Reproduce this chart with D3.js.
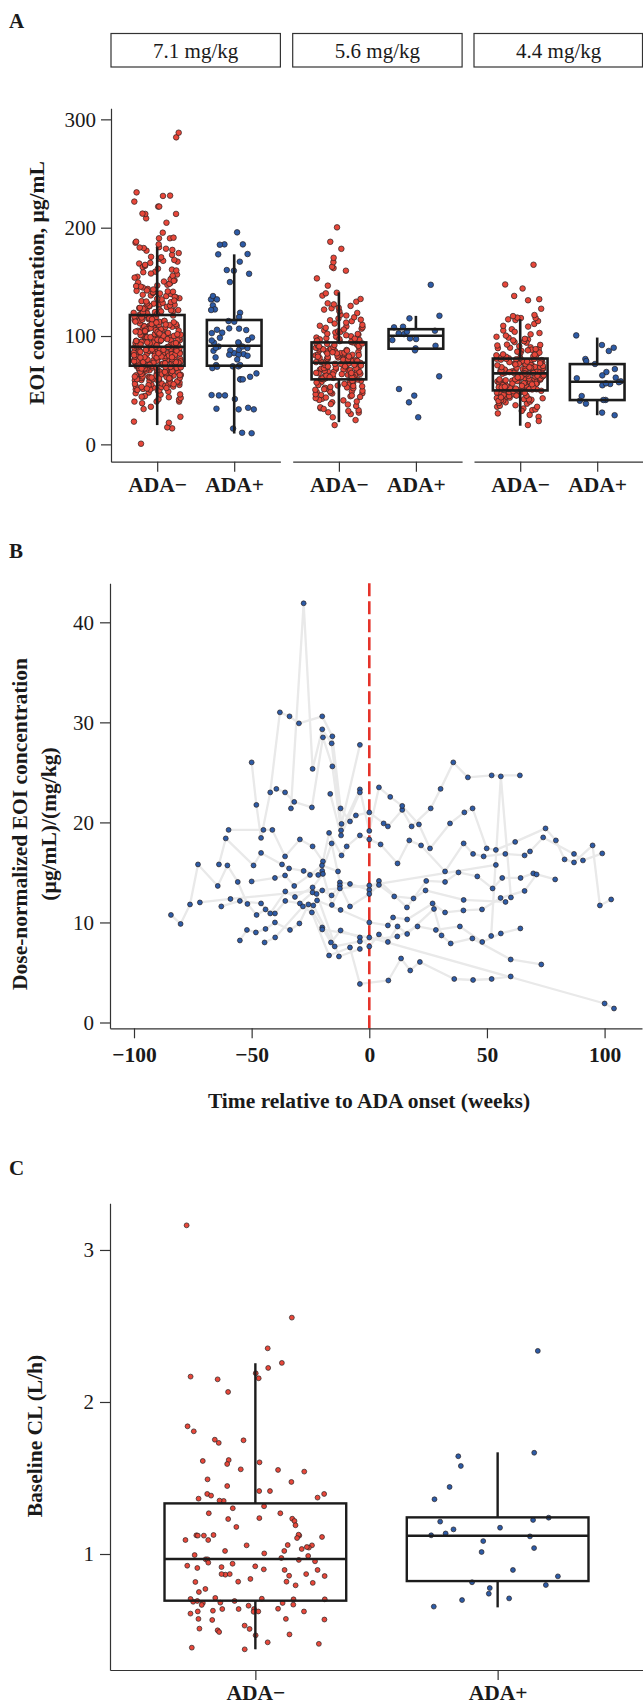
<!DOCTYPE html>
<html>
<head>
<meta charset="utf-8">
<script src="https://cdn.jsdelivr.net/npm/d3@7"></script>
<style>body{margin:0;background:#fff}</style>
</head>
<body>
<svg id="fig" width="643" height="1706"></svg>
<script>
// ---- data ----
const doseLabels = ["7.1 mg/kg", "5.6 mg/kg", "4.4 mg/kg"];
const adaGroups = ["ADA\u2212", "ADA+"];

// panel A: EOI concentration (ug/mL), ADA- per dose
const eoiNeg71 = [0.6, 14.8, 15.7, 20, 21, 25.5, 32.6, 34.7, 38, 39.5, 39.5, 39.5, 41.7, 44.2,
  41.3, 47.8, 44.6, 49.2, 42.9, 46.1, 48.7, 43.5, 45.9, 49.8, 47.2, 44.0,
  52.4, 57.9, 50.8, 55.3, 59.1, 53.7, 56.6, 51.2, 58.4, 54.9, 50.3, 57.1, 53.0, 59.7, 55.8, 52.9, 56.2, 58.8, 51.7, 54.1, 59.4, 50.6, 57.5, 53.3, 55.1, 58.1, 52.0, 56.9, 54.6, 51.5, 59.9, 55.5,
  61.2, 66.8, 63.5, 69.1, 64.7, 60.4, 67.9, 62.3, 65.6, 68.4, 61.8, 64.1, 69.7, 63.0, 66.2, 60.9, 67.3, 62.7, 65.0, 68.9, 61.5, 64.4, 69.4, 63.8, 66.5, 60.1, 67.6, 62.1, 65.3, 68.1, 61.0, 63.3, 66.0, 69.9, 64.9, 62.5, 67.1, 60.7, 65.8, 68.6, 63.9, 61.7, 66.9,
  71.4, 76.9, 73.2, 78.5, 70.6, 74.8, 79.3, 72.1, 75.7, 77.4, 70.2, 73.9, 78.0, 71.8, 76.2, 74.3, 79.8, 72.6, 75.1, 77.9, 70.9, 73.5, 78.8, 71.1, 76.6, 74.0, 79.0, 72.9, 75.4, 77.1, 70.4, 73.7, 78.2, 71.6, 76.4, 74.6, 79.5, 72.3, 75.9, 77.7, 70.8, 73.0, 78.6, 71.9, 76.0, 74.2, 79.7, 72.8, 75.3, 77.2, 70.0, 73.4, 78.3, 74.9, 76.7,
  81.2, 86.7, 83.4, 88.9, 80.5, 84.8, 89.3, 82.1, 85.6, 87.4, 80.9, 83.8, 88.2, 81.7, 86.1, 84.3, 89.7, 82.6, 85.0, 87.8, 80.2, 83.1, 88.5, 81.4, 86.4, 84.0, 89.0, 82.9, 85.3, 87.1, 80.7, 83.6, 88.7, 81.9, 86.9, 84.6, 89.5, 82.3, 85.8, 87.6, 80.1, 83.3, 88.1, 81.1, 86.2, 84.1, 89.9, 82.8, 85.4, 87.3, 80.4, 83.9, 86.5,
  91.3, 96.8, 93.1, 98.6, 90.5, 94.7, 99.2, 92.4, 95.9, 97.5, 90.9, 93.6, 98.1, 91.8, 96.3, 94.2, 99.8, 92.7, 95.2, 97.9, 90.2, 93.9, 98.4, 91.5, 96.0, 94.5, 99.5, 92.1, 95.6, 97.2, 90.7, 93.3, 98.9, 91.1, 96.6, 94.0, 99.0, 92.9, 95.4, 97.7, 90.0, 93.5, 96.1,
  101.4, 106.9, 103.2, 108.7, 100.6, 104.8, 109.3, 102.1, 105.7, 107.5, 100.3, 103.9, 108.2, 101.8, 106.3, 104.4, 109.8, 102.6, 105.1, 107.9, 100.9, 103.5, 108.5, 101.1, 106.6, 104.1, 109.1, 102.9, 105.4, 107.2, 100.1, 103.7, 108.9, 101.6, 106.0, 104.6, 102.4,
  111.3, 116.8, 113.5, 118.9, 110.4, 114.7, 119.2, 112.2, 115.8, 117.4, 110.9, 113.1, 118.3, 111.7, 116.2, 114.3, 119.6, 112.7, 115.1, 117.9, 110.1, 113.8, 118.6, 111.0, 116.5, 114.0, 119.9, 112.5, 115.5, 117.1, 110.6, 113.3,
  121.4, 126.9, 123.2, 128.8, 120.5, 124.7, 129.4, 122.1, 125.8, 127.5, 120.9, 123.7, 128.2, 121.8, 126.3, 124.2, 129.9, 122.6, 125.1, 127.9, 120.2, 123.9, 126.0,
  131.3, 136.8, 133.4, 138.7, 130.6, 134.9, 139.3, 132.2, 135.7, 137.5, 130.1, 133.8, 138.1, 131.9, 136.2, 134.4, 139.8, 132.7,
  141.2, 146.7, 143.5, 148.9, 140.4, 144.8, 149.4, 142.1, 145.6, 147.3, 140.9, 143.0, 148.2, 141.7, 146.1,
  151.5, 156.8, 153.2, 158.9, 150.3, 154.7, 159.4, 152.4, 155.6, 157.7, 150.9, 153.9,
  161.3, 166.9, 163.6, 168.7, 160.5, 164.8, 169.4, 162.2, 165.7, 167.5,
  171.4, 176.6, 173.1, 178.8, 170.2, 174.9, 179.5, 172.7, 181.2, 182.0, 180.6, 181.7,
  184.6, 186.2, 187.1, 190.2, 190.2, 190.8, 195.4, 204.6, 208.6, 212.7, 212.7, 213, 219.5, 219.5, 224.1, 229.3, 229.6, 232.6, 283.4, 287.7];
const eoiNeg56 = [17.8, 22.4, 25.0, 28.0, 29.3, 29.6,
  33.3, 34.2, 31.5, 36.8, 38.9, 32.7, 35.4, 39.6, 37.2, 30.8,
  42.1, 45.6, 48.3, 41.0, 47.2, 43.8, 49.5, 44.4, 46.9, 40.6, 48.9, 42.7, 45.1, 47.8, 43.2, 49.1, 46.3,
  51.3, 56.9, 53.6, 58.2, 50.4, 55.1, 59.4, 52.2, 57.5, 54.3, 50.9, 58.8, 53.0, 56.4, 51.8, 59.9, 54.7, 57.1, 52.6, 55.8, 58.5, 53.9,
  61.2, 66.4, 63.8, 68.9, 60.5, 65.1, 69.6, 62.4, 67.3, 64.2, 60.1, 68.2, 63.1, 66.9, 61.7, 69.2, 64.8, 67.7, 62.9, 65.6, 60.8, 68.5, 63.4, 66.0, 61.4, 69.9, 64.5, 67.0, 62.1, 65.9,
  71.1, 76.5, 73.7, 78.8, 70.4, 75.2, 79.5, 72.3, 77.4, 74.1, 70.9, 78.1, 73.2, 76.8, 71.6, 79.1, 74.7, 77.9, 72.8, 75.6, 70.2, 78.4, 73.4, 76.1, 71.9, 79.8, 74.4, 77.0, 72.0, 75.9,
  81.4, 86.2, 83.5, 88.7, 80.6, 85.3, 89.4, 82.1, 87.5, 84.2, 80.2, 88.1, 83.0, 86.8, 81.8, 89.9, 84.7, 87.1, 82.7, 85.8, 80.9, 88.4, 83.8, 86.5, 81.1, 89.1, 84.0, 87.8, 82.4, 85.0,
  91.2, 96.4, 93.8, 98.6, 90.5, 95.3, 99.4, 92.2, 97.1, 94.0, 90.9, 98.0, 93.1, 96.9, 91.7, 99.8, 94.6, 97.6, 92.8, 95.7,
  101.4, 106.8, 103.3, 108.9, 100.7, 105.2, 109.5, 102.1, 107.6, 104.4, 101.9, 108.1, 103.8, 106.0,
  111.5, 116.2, 113.7, 118.9, 110.3, 115.1, 119.6, 112.4, 117.3, 114.6,
  124.4, 121.3, 127.8, 125.6, 122.9, 129.2, 126.1, 130.2, 131.7, 134.2, 137.3, 139.4,
  140.0, 146.5, 153.2, 160.3, 162.7, 163.9, 168.2, 172.2, 180.5, 187.0, 200.3];
const eoiNeg44 = [17.8, 25.4, 28.6, 31.6, 32.3, 33.1, 34.7, 34.7, 37.6, 21.5, 27.2,
  36.1, 38.8, 30.9, 39.5, 35.6, 38.2,
  41.2, 46.5, 43.8, 48.6, 40.4, 45.3, 49.4, 42.1, 47.7, 44.2, 40.9, 48.0, 43.1, 46.9, 41.7, 49.8, 44.6, 47.2, 42.8, 45.7, 40.1, 48.3, 43.4, 46.1, 41.5, 49.1, 44.9, 47.5, 42.5, 45.0,
  51.3, 56.6, 53.4, 58.7, 50.5, 55.2, 59.5, 52.2, 57.4, 54.1, 50.9, 58.1, 53.0, 56.9, 51.8, 59.9, 54.7, 57.8, 52.7, 55.6, 50.2, 58.4, 53.6, 56.2, 51.5, 59.2, 54.4, 57.1, 52.4, 55.9, 50.7, 58.9, 53.2, 56.4, 51.1, 59.7, 54.0, 57.6, 52.9, 55.4,
  61.2, 66.5, 63.7, 68.8, 60.4, 65.2, 69.5, 62.1, 67.4, 64.3, 60.9, 68.1, 63.0, 66.9, 61.6, 69.9, 64.6, 67.8, 62.7, 65.7, 60.2, 68.4, 63.4, 66.2, 61.4, 69.1, 64.0, 67.1, 62.4, 65.9, 60.7, 68.6, 63.2, 66.0, 61.9, 69.3, 64.8, 67.6, 62.9, 65.4, 60.0, 68.0, 63.9, 66.7,
  71.3, 76.6, 73.5, 78.7, 70.4, 75.2, 79.4, 72.2, 77.5, 74.1, 70.9, 78.2, 73.0, 76.9, 71.7, 79.8, 74.6, 77.8, 72.7, 75.7, 70.2, 78.5, 73.3, 76.2, 71.5, 79.1, 74.4, 77.1, 72.4, 75.9, 70.7, 78.9, 73.8, 76.4, 71.1, 74.9,
  81.4, 86.3, 83.6, 88.8, 80.5, 85.1, 89.6, 82.2, 87.4, 84.0, 80.9, 88.2, 83.1, 86.8, 81.8, 89.2, 84.7, 87.9, 82.8, 85.6,
  91.3, 96.7, 93.9, 98.5, 90.6, 95.2, 99.3, 92.1, 97.4, 94.4, 91.8, 96.0,
  101.6, 106.3, 103.9, 108.7, 100.4, 105.1, 109.4, 102.8, 111.2, 113.8, 115.4, 114.7,
  116.6, 116.6, 117.0, 118.4, 119.4, 125.2, 133.0, 134.0, 137.0, 143.9, 147.6, 165.8];

// panel A: ADA+ per dose
const eoiPos71 = [195.7, 184.6, 184.3, 184.6, 175.4, 175.7, 168.6, 160.3, 157.5, 160.9, 149.8, 134.8, 133.8, 136.9, 133.8,
  128.3, 124.6, 124.0, 121.5, 117.5, 113.8, 113.2, 107.1, 106.8, 105.8, 103.1, 105.5, 98.4, 102.7, 98.7, 96.3, 93.2, 93.8, 94.1,
  86.4, 84.2, 86.7, 83.3, 81.8, 88.9, 82.7, 82.7, 87.3, 90.3, 90.3, 80.3, 78.4, 73.2, 72.0, 72.0, 73.2, 70.4, 71.7, 65.5, 62.4,
  60.0, 60.0, 60.0, 45.2, 45.5, 41.8, 45.2, 32.3, 32.3, 33.8, 32.9, 10.7, 10.3, 14.6, 89.1, 95.9];
const eoiPos56 = [147.3, 118.7, 116.3, 108.6, 108.0, 104.9, 101.8, 102.5, 96.3, 97.2, 97.8, 91.0, 88.6, 86.8, 62.8, 51.1, 45.0, 38.8, 25.0, 104.0];
const eoiPos44 = [100.6, 91.7, 89.2, 86.2, 78.8, 76.9, 74.2, 69.5, 66.8, 63.7, 61.6, 61.0, 58.2, 57.3, 54.5, 55.7, 56.3, 41.0, 44.6, 40.3, 41.0, 37.6, 29.3, 26.9];

// box stats: [lower whisker, Q1, median, Q3, upper whisker]
const eoiBoxNeg = [[17.8, 72.6, 90.1, 119.4, 182], [20.5, 60, 75.3, 94.1, 140.3], [17.2, 49.8, 65.5, 79.2, 115.6]];
const eoiBoxPos = [[10, 72.6, 91, 114.8, 175.4], [88.3, 88.3, 100.2, 106.3, 118.6], [26.9, 40.9, 57.8, 74.1, 98.6]];
const eoiTicks = [0, 100, 200, 300];

// panel B: dose-normalized EOI concentration per ADA+ patient, [week, value]
const weekProfiles = [
  [[-50,26.0],[-48,21.75],[-46,18.45],[-42.1,23.0],[-38,31.0],[-33.9,30.6],[-29.9,29.9],[-20,30.6],[-15.7,28.6],[-12.2,21.4],[-8.2,20.1],[-5.7,20.7],[0,21.0],[6.1,19.9],[7.9,19.6],[14,21.25],[18,19.6],[26.1,21.4],[30.3,23.35],[35.7,26.0],[41.9,24.5],[52,24.7],[64,24.7]],
  [[-39.5,23.35],[-35.8,23.0],[-31.9,22.05],[-24.4,21.5],[-19.7,28.5],[-15.7,25.6],[-12,19.2],[-4,23.3],[0,19.15],[4.1,23.5],[8.9,22.55],[14,21.65],[21.1,19.8],[25.8,17.4],[34.3,19.9],[40.4,21.0],[43.9,21.4],[49.9,17.4],[53.8,17.25],[62,18.05],[74.9,19.4],[79.3,18.2],[83,16.3],[87,16.0],[94.9,17.7],[98,11.7],[102.8,12.3]],
  [[-33.3,21.4],[-27.9,41.9],[-24.1,25.35],[-20,29.3],[-16,27.9],[-11.8,19.85],[-4,27.75]],
  [[-16.6,22.85],[-12,18.7],[-4,23.0]],
  [[51.8,8.65],[55.9,24.6],[60.2,12.5]],
  [[-59.8,19.25],[-45,19.25],[-41.2,19.25],[-35.8,16.6],[-29.5,18.3],[-24.1,17.6],[-19.7,16.1],[-17.1,18.95],[-11.8,16.7],[-9.6,17.6],[-4,18.7],[0,18.3],[4.8,17.8],[12,15.9],[17,18.2],[22,17.7],[32.2,15.1],[40.1,17.9],[44.1,16.85],[48.6,16.6],[57.8,16.85],[66,16.7],[68.3,17.1],[73.9,18.5],[87,16.85],[90.8,16.2],[99,16.9]],
  [[-63.9,15.8],[-61,18.4],[-49.2,15.7],[-46,16.95],[-37.1,15.8],[-34.1,15.4],[-27.9,15.15],[-21.7,14.75],[-20,15.15],[-16,17.9],[-12.5,14.0],[-8.2,13.85],[0,13.25],[4.1,14.15],[16,11.5],[24.2,14.15],[32.2,14.05],[37.9,15.0],[45.9,14.6],[52.4,13.4],[56.5,14.45],[64.3,14.45],[69.7,14.9],[79,14.3]],
  [[-50,14.1],[-40.1,14.45],[-35.8,14.7],[-31.9,13.65],[-25.2,14.75],[-20.1,15.7],[-13.3,15.1]],
  [[-72,12.0],[-59,12.35],[0,13.7],[53.8,15.75]],
  [[-84.3,10.75],[-80.2,9.85],[-76.2,11.8],[-72.8,15.8],[-64.4,13.65],[-60.3,15.7],[-55.9,14.05],[-51.8,11.85],[-47.9,10.75],[-44.1,11.3],[-40.1,10.9],[-35.7,12.15],[-29.5,11.9],[-24.1,13.0],[-20,13.2],[-16,12.7],[-12.5,13.7],[-8.2,11.6],[0,12.85],[4.1,13.75],[10.6,12.6],[18.8,12.4],[23.9,13.2],[40.1,12.25],[57.9,12.05]],
  [[-62.9,11.6],[-55,12.15],[-46,11.9],[-42.1,10.9],[-35.7,13.1],[-31.6,12.55],[-24.1,13.5],[-19.7,14.85],[-15.9,11.75],[-12.5,13.4]],
  [[-55,8.2],[-52,9.25],[-48.2,9.0],[-44.1,9.35],[-40.1,10.0],[-33.7,9.25],[-29.7,9.9],[-25.9,11.8],[-20,9.5],[-16.3,8.0],[-12.2,9.2],[-4,8.5],[0,7.6],[4.1,8.8],[7.9,8.05],[12,9.6],[16.1,8.85],[27.5,11.35],[30.7,8.7],[34.6,7.9],[43.8,8.4],[60.1,6.3],[73.1,5.8]],
  [[-44.5,8.0],[-40,8.5],[-28.2,11.6],[-24.4,11.0],[-17.1,6.7],[-8.2,7.5],[-4,3.85],[8.1,4.2],[13.5,6.4],[17.4,5.2],[21.5,6.05],[36.1,4.35],[44.1,4.25],[52,4.35],[60.1,4.6]],
  [[-23.8,11.7],[-14.7,7.6],[-4,8.1],[11.9,8.6],[20.5,9.6],[28.3,9.25],[38.5,9.6],[48,8.05],[55.9,8.9],[64.2,9.4]],
  [[-22.4,12.85],[-12.9,6.6],[-4,7.35]],
  [[-22.2,12.2],[-12.2,11.25],[0,10.0],[7.9,9.7],[10.1,10.5],[16.1,10.3],[26.9,11.9],[32.2,11.0],[40,11.2],[47.9,11.3],[55.8,12.45],[66,13.15],[71.1,14.8]],
  [[-20,9.3],[0,8.5],[100,1.9],[104,1.4]]
];
const weekTicks = [-100, -50, 0, 50, 100];
const concTicks = [0, 10, 20, 30, 40];

// panel C: baseline CL (L/h)
const clNeg = [3.162, 2.555, 2.353, 2.257, 2.224, 2.189, 2.167, 2.149, 2.156, 2.066, 1.84, 1.807, 1.748, 1.731, 1.752,
  1.603, 1.612, 1.618, 1.592, 1.557, 1.542, 1.553, 1.474, 1.491, 1.447, 1.414, 1.395, 1.395, 1.414, 1.384, 1.371, 1.349,
  1.364, 1.351, 1.314, 1.301, 1.268, 1.268, 1.232, 1.236, 1.23, 1.217, 1.189, 1.178, 1.121, 1.123, 1.121, 1.121, 1.125,
  1.127, 1.092, 1.105, 1.092, 1.112, 1.057, 1.059, 1.033, 1.042, 1.057, 1.046, 1.02, 1.02, 1.004, 0.993, 0.987, 0.974,
  0.965, 0.961, 0.965, 0.952, 0.943, 0.919, 0.908, 0.899, 0.914, 0.923, 0.936, 0.895, 0.895, 0.864, 0.868, 0.868, 0.868,
  0.855, 0.836, 0.816, 0.857, 0.818, 0.794, 0.818, 0.81, 0.77, 0.75, 0.678, 0.706, 0.686, 0.667, 0.711, 0.704, 0.691,
  0.702, 0.702, 0.691, 0.68, 0.678, 0.665, 0.66, 0.638, 0.627, 0.638, 0.62, 0.622, 0.64, 0.638, 0.622, 0.622, 0.608,
  0.573, 0.569, 0.573, 0.566, 0.509, 0.529, 0.507, 0.498, 0.487, 0.471, 0.465, 0.419, 0.384, 0.409, 0.373];
const clPos = [2.336, 1.666, 1.643, 1.579, 1.441, 1.36, 1.239, 1.224, 1.213, 1.162, 1.173, 1.135, 1.123, 1.116, 1.085,
  1.039, 1.013, 0.895, 0.853, 0.814, 0.796, 0.776, 0.739, 0.697, 0.708, 0.654];
const clBox = [[0.373, 0.693, 0.967, 1.333, 2.255], [0.649, 0.822, 1.12, 1.241, 1.669]];
const clTicks = [1, 2, 3];

// ---- drawing ----
const svg = d3.select("#fig");
const serif = "'Liberation Serif','Times New Roman',Times,serif";
const ink = "#1a1a1a";
const fills = ["#e8473a", "#2d5ba6"];
const dotEdge = "#262020";

function styleAxis(g, bold) {
  g.attr("font-family", null).attr("font-size", null);
  g.select(".domain").attr("stroke", "#333").attr("stroke-width", 1.2);
  g.selectAll(".tick line").attr("stroke", "#333").attr("stroke-width", 1.2);
  g.selectAll(".tick text").attr("fill", ink)
    .style("font-family", serif)
    .style("font-size", bold ? "21.5px" : "21px")
    .style("font-weight", bold ? "bold" : "normal");
}

function panelLetter(txt, y) {
  svg.append("text").attr("x", 9).attr("y", y).text(txt)
    .style("font-family", serif).style("font-weight", "bold").style("font-size", "21px").attr("fill", ink);
}

function yTitle(lines, cx, cy) {
  lines.forEach((t, i) => {
    svg.append("text")
      .attr("transform", `translate(${cx[i]},${cy}) rotate(-90)`)
      .attr("text-anchor", "middle")
      .text(t)
      .style("font-family", serif).style("font-weight", "bold").style("font-size", "21.5px").attr("fill", ink);
  });
}

function drawBox(g, cx, halfW, s, y, lw) {
  const stroke = "#1c1c1c";
  g.append("line").attr("x1", cx).attr("x2", cx).attr("y1", y(s[0])).attr("y2", y(s[1]))
    .attr("stroke", stroke).attr("stroke-width", lw);
  g.append("line").attr("x1", cx).attr("x2", cx).attr("y1", y(s[3])).attr("y2", y(s[4]))
    .attr("stroke", stroke).attr("stroke-width", lw);
  g.append("rect").attr("x", cx - halfW).attr("y", y(s[3]))
    .attr("width", halfW * 2).attr("height", y(s[1]) - y(s[3]))
    .attr("fill", "none").attr("stroke", stroke).attr("stroke-width", lw);
  g.append("line").attr("x1", cx - halfW).attr("x2", cx + halfW).attr("y1", y(s[2])).attr("y2", y(s[2]))
    .attr("stroke", stroke).attr("stroke-width", lw);
}

// jitter only spreads the dots sideways, values come from the arrays
function jitterDots(g, vals, cx, spread, y, r, fill, seed) {
  const rng = d3.randomLcg(seed);
  g.selectAll(null).data(vals).enter().append("circle")
    .attr("cx", () => cx + (rng() * 2 - 1) * spread)
    .attr("cy", d => y(d))
    .attr("r", r)
    .attr("fill", fill)
    .attr("stroke", dotEdge)
    .attr("stroke-width", 0.7);
}

// ===== Panel A =====
panelLetter("A", 28);
const yA = d3.scaleLinear().domain([-16, 310.2]).range([461.7, 108.3]);
const facetLeft = [111, 292.7, 474];
const facetW = 169.4;
const eoiNeg = [eoiNeg71, eoiNeg56, eoiNeg44];
const eoiPos = [eoiPos71, eoiPos56, eoiPos44];

doseLabels.forEach((dose, f) => {
  const x0 = facetLeft[f];
  const x = d3.scalePoint().domain(adaGroups).range([x0, x0 + facetW]).padding(0.6);
  const step = x.step();

  svg.append("rect").attr("x", x0).attr("y", 33.5).attr("width", Math.min(facetW, 642.5 - x0)).attr("height", 33.5)
    .attr("fill", "#fff").attr("stroke", "#333").attr("stroke-width", 1.2);
  svg.append("text").attr("x", x0 + facetW / 2).attr("y", 57.5).attr("text-anchor", "middle")
    .text(dose).style("font-family", serif).style("font-size", "21px").attr("fill", ink);

  const g = svg.append("g");
  jitterDots(g, eoiNeg[f], x(adaGroups[0]), 0.31 * step, yA, 2.8, fills[0], 0.137 + f * 0.21);
  jitterDots(g, eoiPos[f], x(adaGroups[1]), 0.31 * step, yA, 2.8, fills[1], 0.593 + f * 0.13);
  drawBox(g, x(adaGroups[0]), 0.355 * step, eoiBoxNeg[f], yA, 2.6);
  drawBox(g, x(adaGroups[1]), 0.355 * step, eoiBoxPos[f], yA, 2.6);

  const ax = svg.append("g").attr("transform", `translate(0,${yA.range()[0]})`)
    .call(d3.axisBottom(x).tickSize(10).tickPadding(5.5).tickSizeOuter(0));
  styleAxis(ax, true);
});

const ayA = svg.append("g").attr("transform", `translate(${facetLeft[0]},0)`)
  .call(d3.axisLeft(yA).tickValues(eoiTicks).tickFormat(d3.format("d")).tickSize(10).tickPadding(5).tickSizeOuter(0));
styleAxis(ayA, false);
yTitle(["EOI concentration, \u00b5g/mL"], [44], 283);

// ===== Panel B =====
panelLetter("B", 558);
const xB = d3.scaleLinear().domain([-110.2, 115.9]).range([110, 642]);
const yB = d3.scaleLinear().domain([-0.58, 43.9]).range([1028.3, 583.3]);
const gB = svg.append("g");
const line = d3.line().x(d => xB(d[0])).y(d => yB(d[1]));
gB.selectAll(".prof").data(weekProfiles).enter().append("path")
  .attr("d", line).attr("fill", "none").attr("stroke", "#e9e9e9").attr("stroke-width", 2.3)
  .attr("stroke-linejoin", "round");
gB.append("line").attr("x1", xB(0)).attr("x2", xB(0)).attr("y1", yB.range()[1]).attr("y2", yB.range()[0])
  .attr("stroke", "#e5332a").attr("stroke-width", 2.6).attr("stroke-dasharray", "13,5");
gB.selectAll(".pt").data(weekProfiles.flat()).enter().append("circle")
  .attr("cx", d => xB(d[0])).attr("cy", d => yB(d[1])).attr("r", 2.45)
  .attr("fill", fills[1]).attr("stroke", dotEdge).attr("stroke-width", 0.7);

const axB = svg.append("g").attr("transform", `translate(0,${yB.range()[0]})`)
  .call(d3.axisBottom(xB).tickValues(weekTicks).tickSize(10).tickPadding(8).tickSizeOuter(0));
styleAxis(axB, true);
const ayB = svg.append("g").attr("transform", `translate(${xB.range()[0]},0)`)
  .call(d3.axisLeft(yB).tickValues(concTicks).tickFormat(d3.format("d")).tickSize(10).tickPadding(6).tickSizeOuter(0));
styleAxis(ayB, false);
yTitle(["Dose-normalized EOI concentration", "(\u00b5g/mL)/(mg/kg)"], [27, 55.5], 824);
svg.append("text").attr("x", 369).attr("y", 1108).attr("text-anchor", "middle")
  .text("Time relative to ADA onset (weeks)")
  .style("font-family", serif).style("font-weight", "bold").style("font-size", "21.5px").attr("fill", ink);

// ===== Panel C =====
panelLetter("C", 1175);
const xC = d3.scalePoint().domain(adaGroups).range([110, 643]).padding(0.6);
const yC = d3.scaleLinear().domain([0.237, 3.307]).range([1670, 1203.3]);
const gC = svg.append("g");
jitterDots(gC, clNeg, xC(adaGroups[0]), 0.29 * xC.step(), yC, 2.45, fills[0], 0.371);
jitterDots(gC, clPos, xC(adaGroups[1]), 0.29 * xC.step(), yC, 2.45, fills[1], 0.822);
drawBox(gC, xC(adaGroups[0]), 0.375 * xC.step(), clBox[0], yC, 2.4);
drawBox(gC, xC(adaGroups[1]), 0.375 * xC.step(), clBox[1], yC, 2.4);

const axC = svg.append("g").attr("transform", `translate(0,${yC.range()[0]})`)
  .call(d3.axisBottom(xC).tickSize(10).tickPadding(4.5).tickSizeOuter(0));
styleAxis(axC, true);
const ayC = svg.append("g").attr("transform", `translate(${xC.range()[0]},0)`)
  .call(d3.axisLeft(yC).tickValues(clTicks).tickFormat(d3.format("d")).tickSize(10).tickPadding(6).tickSizeOuter(0));
styleAxis(ayC, false);
yTitle(["Baseline CL (L/h)"], [42], 1436);
</script>
</body>
</html>
